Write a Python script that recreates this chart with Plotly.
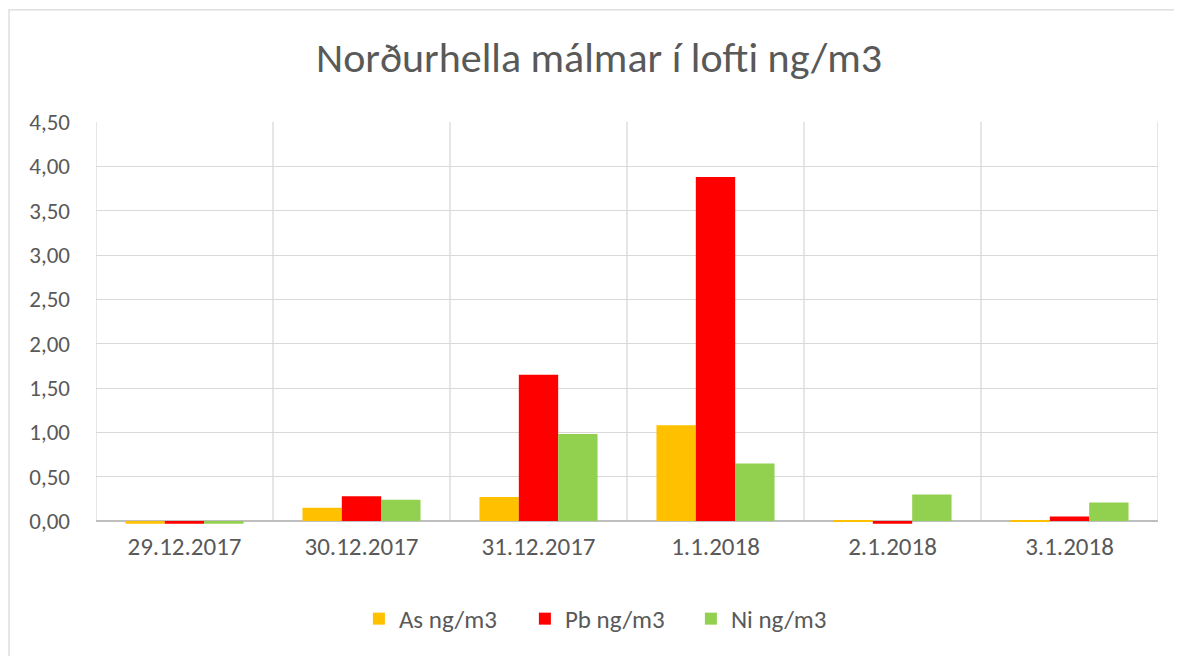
import plotly.graph_objects as go

categories = ["29.12.2017", "30.12.2017", "31.12.2017", "1.1.2018", "2.1.2018", "3.1.2018"]
as_vals = [-0.03, 0.15, 0.27, 1.08, 0.005, 0.005]
pb_vals = [-0.03, 0.28, 1.65, 3.88, -0.03, 0.05]
ni_vals = [-0.03, 0.24, 0.98, 0.65, 0.30, 0.21]
series_names = ["As ng/m3", "Pb ng/m3", "Ni ng/m3"]
colors = ["#FFC000", "#FF0000", "#92D050"]
y_ticks = [0, 0.5, 1.0, 1.5, 2.0, 2.5, 3.0, 3.5, 4.0, 4.5]

FONT = "Carlito, Lato, sans-serif"
TXT = "#595959"

fig = go.Figure()
for name, vals, col in zip(series_names, [as_vals, pb_vals, ni_vals], colors):
    fig.add_trace(go.Bar(x=categories, y=vals, name=name, marker_color=col,
                         marker_line_width=0))

shapes = []
for i in range(len(categories) + 1):
    shapes.append(dict(type="line", xref="x", yref="y", x0=i - 0.5, x1=i - 0.5,
                       y0=0, y1=4.5, line=dict(color="#D9D9D9", width=1.3), layer="below"))
# chart area border
shapes.append(dict(type="rect", xref="paper", yref="paper", x0=-0.0819, x1=1.2,
                   y0=-0.5, y1=1.278, line=dict(color="#D9D9D9", width=1.3), layer="below"))

fig.update_layout(
    width=1182, height=656,
    margin=dict(l=88, r=32, t=114, b=139),
    paper_bgcolor="white", plot_bgcolor="white",
    separators=", ",
    barmode="group", bargap=0.333, bargroupgap=0,
    title=dict(text="Norðurhella málmar í lofti ng/m3", x=0.5, xanchor="center",
               y=0.925, yanchor="middle", font=dict(family=FONT, size=42, color=TXT)),
    font=dict(family=FONT, color=TXT),
    xaxis=dict(type="category", range=[-0.5, 5.5], showgrid=False, showline=False,
               ticks="", tickfont=dict(size=25, color=TXT), fixedrange=True,
               ticklabelstandoff=4),
    yaxis=dict(range=[-0.045, 4.5], tickvals=y_ticks, tickformat=".2f",
               showgrid=True, gridcolor="#D9D9D9", gridwidth=1.3,
               zeroline=True, zerolinecolor="#BFBFBF", zerolinewidth=2,
               showline=False, ticks="", ticklabelstandoff=25,
               tickfont=dict(size=23, color=TXT)),
    legend=dict(orientation="h", x=0.482, xanchor="center", y=-0.233, yanchor="middle",
                font=dict(size=25, color=TXT), itemwidth=30, traceorder="normal",
                entrywidth=121, entrywidthmode="pixels"),
    shapes=shapes,
    showlegend=True,
)

fig.write_html("out.html")
